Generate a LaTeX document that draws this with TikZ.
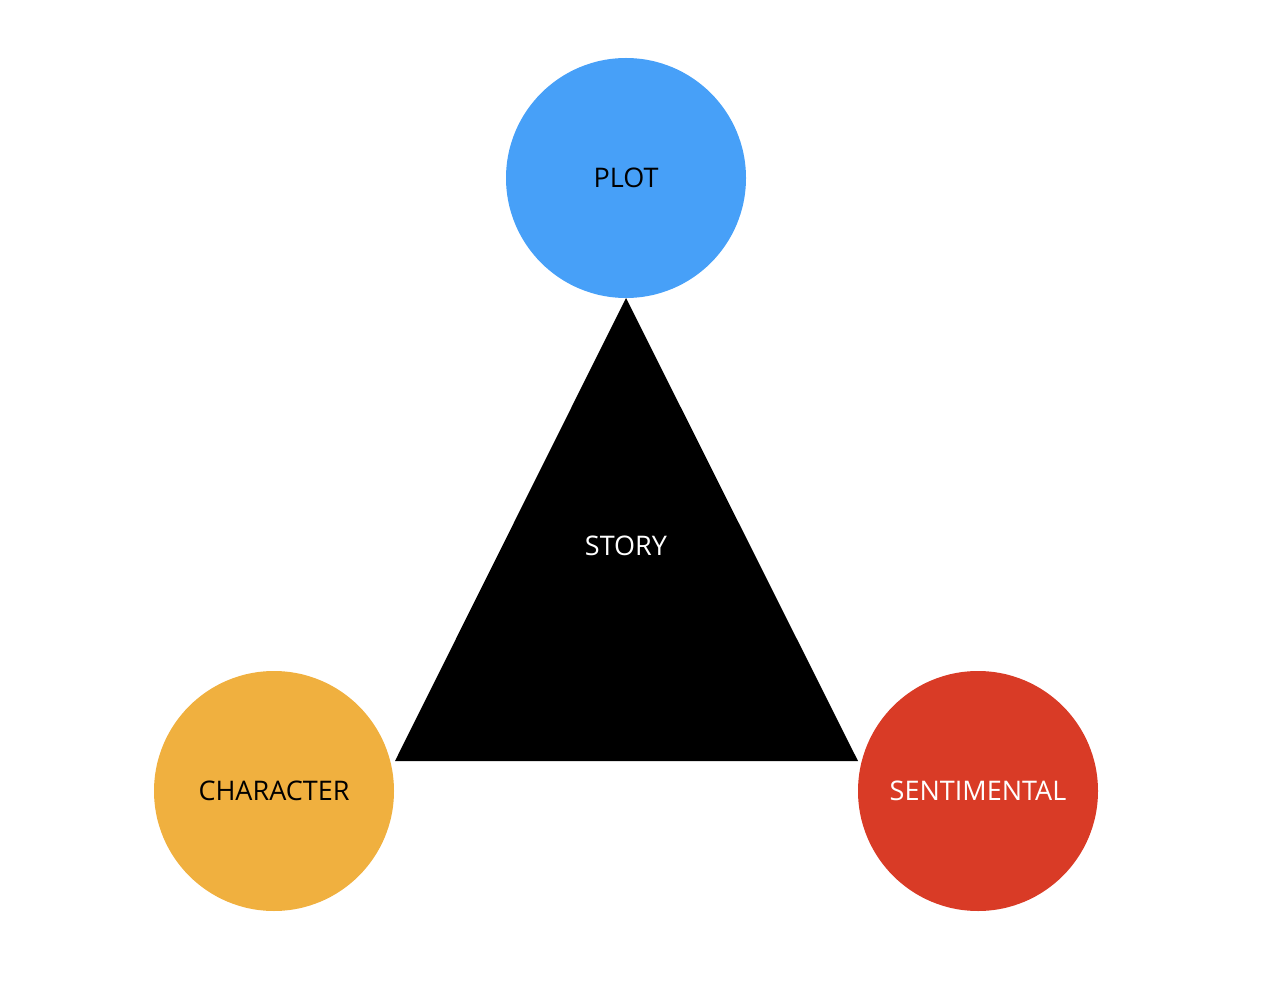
\documentclass[tikz,border=0pt]{standalone}
\usepackage{fontspec}
\setmainfont{Open Sans}
\definecolor{plotc}{HTML}{47A0F8}
\definecolor{charc}{HTML}{F0B03F}
\definecolor{sentc}{HTML}{D93B26}
\begin{document}
\begin{tikzpicture}[x=1pt,y=-1pt,
  blob/.style={circle,minimum size=240pt,inner sep=0pt,font=\fontsize{27}{30}\selectfont}]
\useasboundingbox (0,0) rectangle (1280,1000);
\fill[black] (626,298) coordinate (apex) -- (395,761) coordinate (bl) -- (858,761) coordinate (br) -- cycle;
\node[font=\fontsize{27}{30}\selectfont,text=white] (story) at (626,546) {STORY};
\node[blob,fill=plotc,text=black] (plot) at (626,178) {PLOT};
\node[blob,fill=charc,text=black] (char) at (274,791) {CHARACTER};
\node[blob,fill=sentc,text=white] (sent) at (978,791) {SENTIMENTAL};
\end{tikzpicture}
\end{document}
